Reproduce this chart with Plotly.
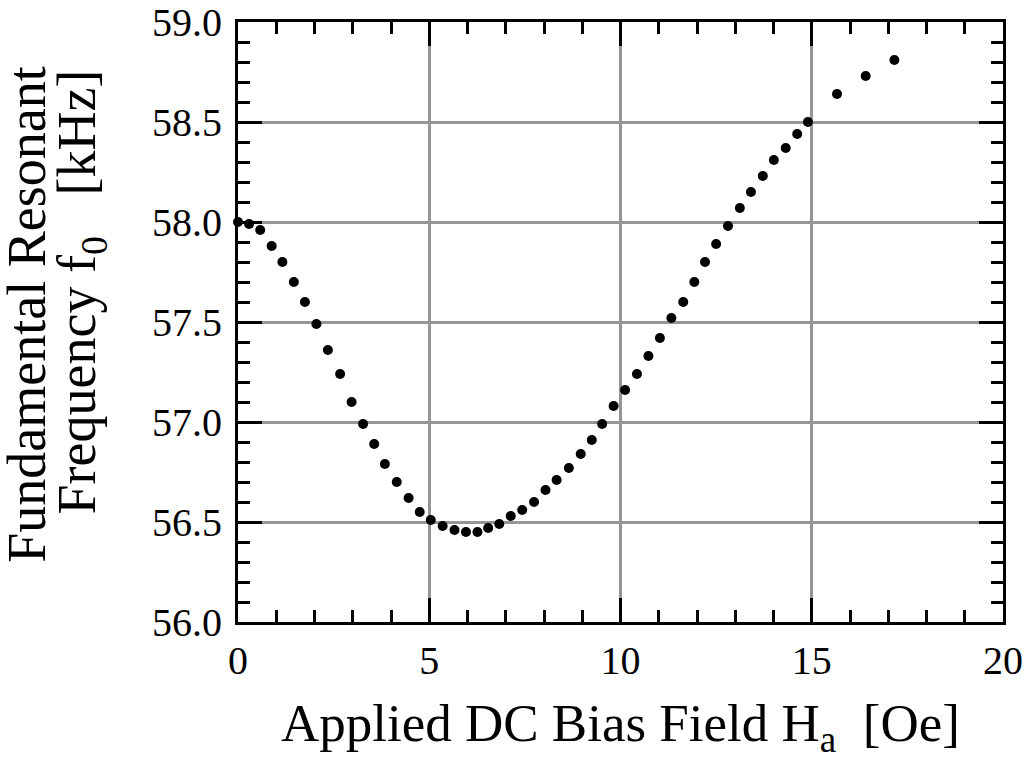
"""Fundamental resonant frequency vs applied DC bias field."""
import plotly.graph_objects as go

# Bias field [Oe]
bias_field = [
    0.0, 0.29, 0.58, 0.88, 1.16, 1.46, 1.75, 2.05, 2.35, 2.67,
    2.97, 3.27, 3.56, 3.84, 4.15, 4.46, 4.75, 5.04, 5.35, 5.66,
    5.96, 6.26, 6.54, 6.83, 7.13, 7.43, 7.74, 8.04, 8.33, 8.65,
    8.96, 9.25, 9.52, 9.82, 10.12, 10.43, 10.73, 11.03, 11.33, 11.64,
    11.93, 12.21, 12.50, 12.81, 13.12, 13.41, 13.72, 14.01, 14.32, 14.62,
    14.90, 15.66, 16.41, 17.16,
]
# Resonant frequency f0 [kHz]
freq_khz = [
    58.00, 57.99, 57.96, 57.88, 57.80, 57.70, 57.60, 57.49, 57.36, 57.24,
    57.10, 56.99, 56.89, 56.79, 56.70, 56.62, 56.55, 56.51, 56.48, 56.46,
    56.45, 56.45, 56.47, 56.49, 56.53, 56.56, 56.60, 56.66, 56.71, 56.77,
    56.84, 56.91, 56.99, 57.08, 57.16, 57.24, 57.33, 57.42, 57.52, 57.60,
    57.70, 57.80, 57.89, 57.98, 58.07, 58.15, 58.23, 58.31, 58.37, 58.44,
    58.50, 58.64, 58.73, 58.81,
]

x_ticks = [0, 5, 10, 15, 20]
y_ticks = [56.0, 56.5, 57.0, 57.5, 58.0, 58.5, 59.0]

FONT = "Liberation Serif, Times New Roman, serif"

fig = go.Figure()
fig.add_trace(go.Scatter(
    x=bias_field, y=freq_khz, mode="markers",
    marker=dict(color="black", size=10),
    cliponaxis=False, showlegend=False,
))

axis_common = dict(
    showline=True, linecolor="black", linewidth=3, mirror="allticks",
    ticks="inside", ticklen=24, tickwidth=3, tickcolor="black",
    showgrid=True, gridcolor="#969696", gridwidth=3,
    zeroline=False, automargin=False, ticklabeloverflow="allow",
    tickfont=dict(family=FONT, size=40, color="black"),
)

fig.update_xaxes(
    range=[0, 20], tickvals=x_ticks, ticklabelstandoff=1,
    minor=dict(ticks="inside", ticklen=12, tickwidth=3, tickcolor="black",
               dtick=1, showgrid=False),
    **axis_common,
)
fig.update_yaxes(
    range=[56.0, 59.0], tickvals=y_ticks, tickformat=".1f", ticklabelstandoff=5,
    minor=dict(ticks="inside", ticklen=12, tickwidth=3, tickcolor="black",
               dtick=0.1, showgrid=False),
    **axis_common,
)

title_font = dict(family=FONT, size=53, color="black")
fig.add_annotation(
    text="Applied DC Bias Field H<sub>a</sub>  [Oe]",
    xref="paper", yref="paper", x=0.5, y=-0.175,
    xanchor="center", yanchor="middle", showarrow=False, font=title_font,
)
fig.add_annotation(
    text="Fundamental Resonant",
    xref="paper", yref="paper", x=-0.276, y=0.512, textangle=-90,
    xanchor="center", yanchor="middle", showarrow=False,
    font=dict(family=FONT, size=54, color="black"),
)
fig.add_annotation(
    text="Frequency f<sub>0</sub>\u00a0\u00a0 [kHz]",
    xref="paper", yref="paper", x=-0.206, y=0.55, textangle=-90,
    xanchor="center", yanchor="middle", showarrow=False,
    font=dict(family=FONT, size=54, color="black"),
)

fig.update_layout(
    width=1024, height=769,
    margin=dict(l=238, r=21, t=22, b=147),
    plot_bgcolor="white", paper_bgcolor="white",
    font=dict(family=FONT, color="black"),
)

# drop the default 8 px body margin so the figure fills the window exactly
fig.write_html("out.html",
               config={"displayModeBar": False},
               post_script="document.body.style.margin='0';"
                           "document.body.style.overflow='hidden';")
